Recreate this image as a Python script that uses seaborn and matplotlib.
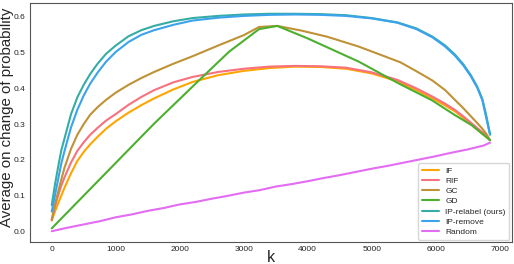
import matplotlib
matplotlib.use("Agg")
import matplotlib.pyplot as plt
import seaborn as sns
import pandas as pd

# k grid shared by the smooth curves
k_smooth = [0, 50, 100, 150, 200, 300, 400, 500, 600, 720, 850, 1000, 1200, 1400, 1600, 1900,
            2200, 2600, 3000, 3400, 3800, 4200, 4600, 5000, 5400, 5700, 5950, 6150, 6300,
            6430, 6550, 6650, 6730, 6790, 6850]

if_vals = [0.030, 0.055, 0.078, 0.100, 0.122, 0.162, 0.197, 0.222, 0.243, 0.265, 0.287, 0.308,
           0.332, 0.353, 0.372, 0.397, 0.418, 0.437, 0.449, 0.457, 0.461, 0.460, 0.455, 0.442,
           0.420, 0.395, 0.372, 0.352, 0.336, 0.318, 0.300, 0.285, 0.273, 0.265, 0.255]
rif_vals = [0.033, 0.068, 0.100, 0.128, 0.151, 0.192, 0.225, 0.249, 0.270, 0.290, 0.310, 0.328,
            0.354, 0.376, 0.395, 0.417, 0.432, 0.446, 0.455, 0.461, 0.463, 0.462, 0.458, 0.445,
            0.424, 0.400, 0.377, 0.357, 0.340, 0.322, 0.304, 0.289, 0.277, 0.268, 0.255]
relabel_vals = [0.073, 0.130, 0.180, 0.227, 0.260, 0.327, 0.375, 0.410, 0.440, 0.470, 0.497,
                0.520, 0.546, 0.563, 0.575, 0.588, 0.597, 0.603, 0.607, 0.609, 0.609, 0.608,
                0.605, 0.597, 0.585, 0.568, 0.545, 0.520, 0.495, 0.468, 0.437, 0.405, 0.370,
                0.325, 0.272]
remove_vals = [0.055, 0.100, 0.145, 0.190, 0.225, 0.290, 0.340, 0.380, 0.413, 0.445, 0.475,
               0.502, 0.530, 0.550, 0.563, 0.578, 0.590, 0.598, 0.603, 0.606, 0.607, 0.606,
               0.603, 0.596, 0.584, 0.566, 0.543, 0.517, 0.492, 0.465, 0.434, 0.402, 0.367,
               0.318, 0.270]

k_gc = [0, 50, 100, 150, 200, 300, 400, 500, 600, 720, 850, 1000, 1200, 1400, 1600, 1900,
        2200, 2600, 3000, 3240, 3525, 3900, 4300, 4800, 5200, 5450, 5700, 5950, 6150, 6300,
        6430, 6550, 6650, 6730, 6790, 6850]
gc_vals = [0.031, 0.075, 0.110, 0.145, 0.178, 0.230, 0.270, 0.300, 0.326, 0.348, 0.368, 0.388,
           0.410, 0.429, 0.446, 0.469, 0.490, 0.520, 0.549, 0.572, 0.575, 0.562, 0.545, 0.517,
           0.490, 0.473, 0.448, 0.422, 0.395, 0.368, 0.345, 0.322, 0.303, 0.287, 0.273, 0.255]

k_gd = [0, 1604, 2305, 2773, 3240, 3525, 4000, 4798, 5421, 5940, 6303, 6563, 6850]
gd_vals = [0.008, 0.302, 0.423, 0.503, 0.566, 0.575, 0.540, 0.475, 0.414, 0.367, 0.325,
           0.297, 0.255]

k_random = [0, 250, 500, 750, 1000, 1250, 1500, 1750, 2000, 2250, 2500, 2750, 3000, 3250,
            3500, 3750, 4000, 4250, 4500, 4750, 5000, 5250, 5500, 5750, 6000, 6250, 6500,
            6750, 6850]
random_vals = [0.000, 0.010, 0.019, 0.028, 0.039, 0.047, 0.057, 0.065, 0.075, 0.082, 0.091,
               0.099, 0.108, 0.115, 0.125, 0.132, 0.140, 0.149, 0.157, 0.166, 0.175, 0.183,
               0.192, 0.201, 0.210, 0.220, 0.229, 0.240, 0.248]

methods = ["IF", "RIF", "GC", "GD", "IP-relabel (ours)", "IP-remove", "Random"]
series = {
    "IF": (k_smooth, if_vals),
    "RIF": (k_smooth, rif_vals),
    "GC": (k_gc, gc_vals),
    "GD": (k_gd, gd_vals),
    "IP-relabel (ours)": (k_smooth, relabel_vals),
    "IP-remove": (k_smooth, remove_vals),
    "Random": (k_random, random_vals),
}

frames = []
for name in methods:
    ks, vs = series[name]
    frames.append(pd.DataFrame({"k": ks, "value": vs, "method": name}))
df = pd.concat(frames, ignore_index=True)

palette = {
    "IF": "#ffa500",
    "RIF": "#f7717f",
    "GC": "#bf9236",
    "GD": "#4daf2f",
    "IP-relabel (ours)": "#36ada4",
    "IP-remove": "#3ba3ec",
    "Random": "#e36cf2",
}

sns.set_style("white")
plt.rcParams['font.family'] = ['Liberation Sans', 'DejaVu Sans']

fig = plt.figure(figsize=(5.14, 2.64), dpi=100)
ax = fig.add_axes([0.058, 0.083, 0.938, 0.906])
sns.lineplot(data=df, x="k", y="value", hue="method", hue_order=methods,
             palette=palette, linewidth=1.5, ax=ax)

ax.set_xlabel("k", fontsize=11.5, va="center")
ax.xaxis.set_label_coords(0.5, -0.064)
ax.set_ylabel("Average on change of probability", fontsize=10.8)
ax.yaxis.set_label_coords(-0.033, 0.52)
ax.set_xticks([0, 1000, 2000, 3000, 4000, 5000, 6000, 7000])
ax.set_yticks([0.0, 0.1, 0.2, 0.3, 0.4, 0.5, 0.6])
ax.tick_params(labelsize=6, length=0, pad=3)
for s in ax.spines.values():
    s.set_color("#555555")

leg = ax.legend(loc="lower right", fontsize=6, frameon=True, handlelength=2.0,
                labelspacing=0.28, borderpad=0.45, borderaxespad=0.3)
leg.get_frame().set_edgecolor("#cccccc")

fig.savefig("out.png", dpi=100)
